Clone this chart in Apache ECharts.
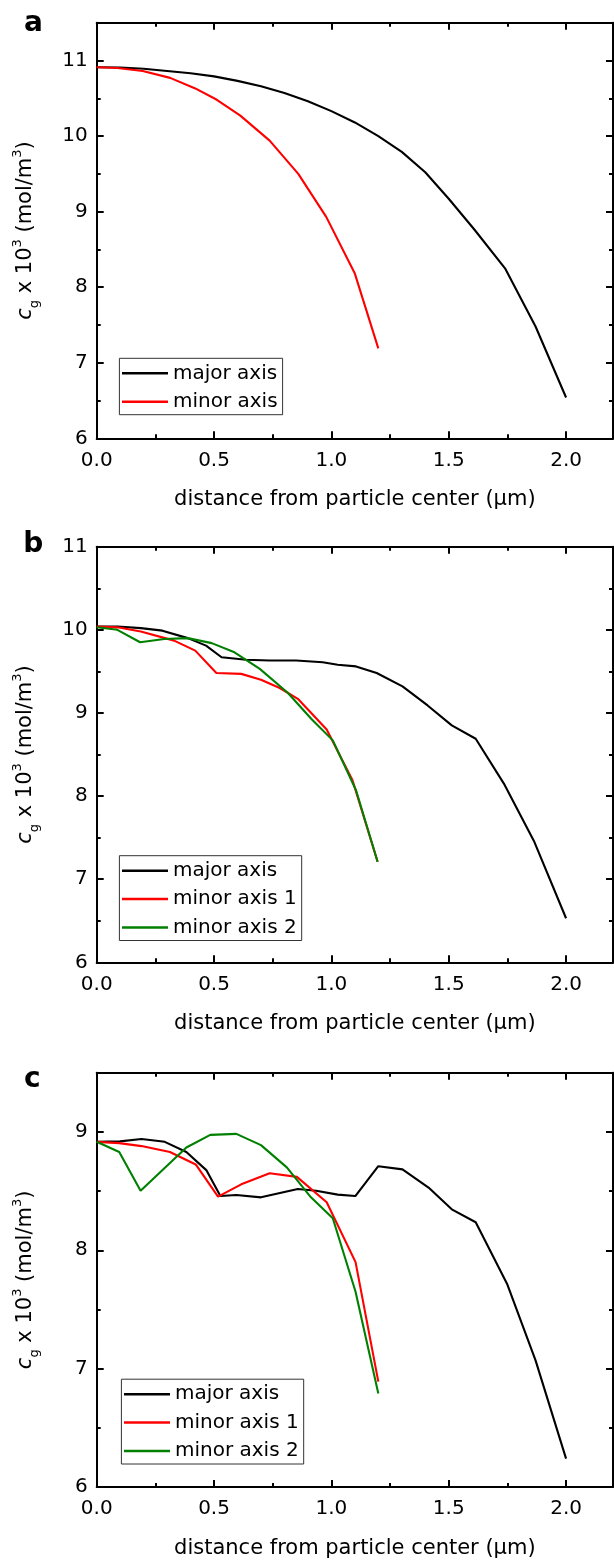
<!DOCTYPE html>
<html>
<head>
<meta charset="utf-8">
<script src="https://cdn.jsdelivr.net/npm/echarts@6/dist/echarts.min.js"></script>
<style>
html,body{margin:0;padding:0;background:#fff;}
#chart{width:614px;height:1560px;}
</style>
</head>
<body>
<div id="chart"></div>
<script>
// ---------------- data ----------------
var xMajorTicks = [0, 0.5, 1.0, 1.5, 2.0];
var xMinorTicks = [0.25, 0.75, 1.25, 1.75];

// panel a
var aMajorX = [0, 0.1, 0.2, 0.3, 0.4, 0.5, 0.6, 0.7, 0.8, 0.9, 1.0, 1.1, 1.2, 1.3, 1.4, 1.5, 1.61, 1.74, 1.87, 2.0];
var aMajorY = [10.91, 10.907, 10.89, 10.86, 10.83, 10.79, 10.73, 10.66, 10.57, 10.46, 10.33, 10.18, 10.0, 9.79, 9.52, 9.17, 8.76, 8.25, 7.48, 6.54];
var aMinorX = [0, 0.088, 0.196, 0.313, 0.42, 0.512, 0.612, 0.737, 0.859, 0.978, 1.1, 1.2];
var aMinorY = [10.91, 10.90, 10.86, 10.77, 10.63, 10.48, 10.27, 9.94, 9.50, 8.93, 8.18, 7.19];
var aYMajor = [6, 7, 8, 9, 10, 11];
var aYMinor = [6.5, 7.5, 8.5, 9.5, 10.5];

// panel b
var bMajorX = [0, 0.088, 0.188, 0.28, 0.388, 0.466, 0.532, 0.637, 0.737, 0.85, 0.963, 1.027, 1.105, 1.193, 1.303, 1.41, 1.513, 1.615, 1.735, 1.863, 2.0];
var bMajorY = [10.04, 10.04, 10.02, 9.99, 9.90, 9.81, 9.67, 9.64, 9.63, 9.63, 9.61, 9.58, 9.56, 9.48, 9.32, 9.09, 8.85, 8.69, 8.15, 7.46, 6.53];
var bMinor1X = [0, 0.088, 0.188, 0.33, 0.42, 0.51, 0.616, 0.70, 0.78, 0.857, 0.98, 1.09, 1.197];
var bMinor1Y = [10.04, 10.03, 9.98, 9.87, 9.75, 9.48, 9.47, 9.40, 9.30, 9.17, 8.80, 8.19, 7.21];
var bMinor2X = [0, 0.088, 0.185, 0.288, 0.388, 0.49, 0.587, 0.695, 0.815, 0.914, 1.006, 1.105, 1.197];
var bMinor2Y = [10.03, 10.0, 9.85, 9.89, 9.90, 9.84, 9.73, 9.53, 9.24, 8.93, 8.67, 8.07, 7.21];
var bYMajor = [6, 7, 8, 9, 10, 11];
var bYMinor = [6.5, 7.5, 8.5, 9.5, 10.5];

// panel c
var cMajorX = [0, 0.099, 0.191, 0.29, 0.382, 0.467, 0.527, 0.595, 0.70, 0.857, 0.935, 1.027, 1.102, 1.20, 1.303, 1.414, 1.513, 1.615, 1.75, 1.87, 2.0];
var cMajorY = [8.916, 8.92, 8.94, 8.916, 8.83, 8.677, 8.458, 8.467, 8.447, 8.517, 8.503, 8.47, 8.458, 8.71, 8.683, 8.53, 8.346, 8.237, 7.71, 7.07, 6.24];
var cMinor1X = [0, 0.096, 0.191, 0.312, 0.422, 0.517, 0.616, 0.737, 0.853, 0.98, 1.103, 1.2];
var cMinor1Y = [8.916, 8.905, 8.88, 8.83, 8.725, 8.453, 8.557, 8.65, 8.62, 8.405, 7.90, 6.89];
var cMinor2X = [0, 0.096, 0.187, 0.382, 0.484, 0.595, 0.70, 0.81, 0.913, 1.006, 1.103, 1.2];
var cMinor2Y = [8.916, 8.83, 8.503, 8.868, 8.975, 8.983, 8.888, 8.70, 8.447, 8.27, 7.65, 6.79];
var cYMajor = [6, 7, 8, 9];
var cYMinor = [6.5, 7.5, 8.5];

var xTitle = 'distance from particle center (\u03bcm)';
var yTitle = '{i|c}{sub|g}{n| x 10}{sup|3}{n| (mol/m}{sup|3}{n|)}';
var panelLabels = ['a', 'b', 'c'];

// ---------------- layout / style ----------------
var FONT = '"DejaVu Sans", "Liberation Sans", Arial, sans-serif';
var FS = 20;
var FS_TITLE = 21;
var GRID_LEFT = 96.7, GRID_W = 516.3, GRID_H = 415.6;
var gridTops = [22.7, 546.7, 1072.7];
var yRanges = [[6, 11.5], [6, 11], [6, 9.5]];
var yMajors = [aYMajor, bYMajor, cYMajor];
var yMinors = [aYMinor, bYMinor, cYMinor];
var AX = {color: '#000', width: 2};

var grids = [], xAxes = [], yAxes = [], series = [], legends = [], graphics = [];

function xAxisSet(g) {
  var base = {gridIndex: g, type: 'value', min: 0, max: 2.2, splitLine: {show: false}};
  xAxes.push(Object.assign({}, base, {
    position: 'bottom',
    axisLine: {show: true, onZero: false, lineStyle: AX},
    axisTick: {show: true, inside: true, length: 7, customValues: xMajorTicks, lineStyle: AX},
    axisLabel: {show: true, customValues: xMajorTicks, margin: 12, color: '#000',
      fontFamily: FONT, fontSize: FS, formatter: function (v) { return (+v).toFixed(1); }},
    name: xTitle, nameLocation: 'middle', nameGap: 51,
    nameTextStyle: {fontFamily: FONT, fontSize: FS_TITLE, color: '#000'}
  }));
  xAxes.push(Object.assign({}, base, {
    position: 'bottom', axisLine: {show: false, onZero: false},
    axisTick: {show: true, inside: true, length: 4, customValues: xMinorTicks, lineStyle: AX},
    axisLabel: {show: false}
  }));
  xAxes.push(Object.assign({}, base, {
    position: 'top', axisLine: {show: true, onZero: false, lineStyle: AX},
    axisTick: {show: true, inside: true, length: 7, customValues: xMajorTicks, lineStyle: AX},
    axisLabel: {show: false}
  }));
  xAxes.push(Object.assign({}, base, {
    position: 'top', axisLine: {show: false, onZero: false},
    axisTick: {show: true, inside: true, length: 4, customValues: xMinorTicks, lineStyle: AX},
    axisLabel: {show: false}
  }));
}

function yAxisSet(g) {
  var base = {gridIndex: g, type: 'value', min: yRanges[g][0], max: yRanges[g][1], splitLine: {show: false}};
  yAxes.push(Object.assign({}, base, {
    position: 'left',
    axisLine: {show: true, onZero: false, lineStyle: AX},
    axisTick: {show: true, inside: true, length: 7, customValues: yMajors[g], lineStyle: AX},
    axisLabel: {show: true, customValues: yMajors[g], margin: 9, color: '#000',
      fontFamily: FONT, fontSize: FS},
    name: yTitle, nameLocation: 'middle', nameGap: 56, nameRotate: 90,
    nameTextStyle: {fontFamily: FONT, fontSize: FS_TITLE, color: '#000',
      rich: {
        n: {fontFamily: FONT, fontSize: FS_TITLE, color: '#000', lineHeight: 30},
        i: {fontFamily: FONT, fontSize: FS_TITLE, color: '#000', fontStyle: 'italic', lineHeight: 30},
        sub: {fontFamily: FONT, fontSize: 13, color: '#000', verticalAlign: 'bottom', lineHeight: 28},
        sup: {fontFamily: FONT, fontSize: 13, color: '#000', verticalAlign: 'top', lineHeight: 18}
      }}
  }));
  yAxes.push(Object.assign({}, base, {
    position: 'left', axisLine: {show: false, onZero: false},
    axisTick: {show: true, inside: true, length: 4, customValues: yMinors[g], lineStyle: AX},
    axisLabel: {show: false}
  }));
  yAxes.push(Object.assign({}, base, {
    position: 'right', axisLine: {show: true, onZero: false, lineStyle: AX},
    axisTick: {show: true, inside: true, length: 7, customValues: yMajors[g], lineStyle: AX},
    axisLabel: {show: false}
  }));
  yAxes.push(Object.assign({}, base, {
    position: 'right', axisLine: {show: false, onZero: false},
    axisTick: {show: true, inside: true, length: 4, customValues: yMinors[g], lineStyle: AX},
    axisLabel: {show: false}
  }));
}

function addLine(g, name, xs, ys, color) {
  series.push({
    type: 'line', name: name, xAxisIndex: 4 * g, yAxisIndex: 4 * g,
    data: xs.map(function (x, i) { return [x, ys[i]]; }),
    symbol: 'none', showSymbol: false, smooth: false, silent: true,
    lineStyle: {color: color, width: 2.1}, itemStyle: {color: color},
    animation: false
  });
}

for (var g = 0; g < 3; g++) {
  grids.push({left: GRID_LEFT, top: gridTops[g], width: GRID_W, height: GRID_H, containLabel: false});
  xAxisSet(g);
  yAxisSet(g);
}

addLine(0, 'major axis', aMajorX, aMajorY, '#000000');
addLine(0, 'minor axis', aMinorX, aMinorY, '#ff0000');
addLine(1, 'major axis', bMajorX, bMajorY, '#000000');
addLine(1, 'minor axis 1', bMinor1X, bMinor1Y, '#ff0000');
addLine(1, 'minor axis 2', bMinor2X, bMinor2Y, '#008000');
addLine(2, 'major axis', cMajorX, cMajorY, '#000000');
addLine(2, 'minor axis 1', cMinor1X, cMinor1Y, '#ff0000');
addLine(2, 'minor axis 2', cMinor2X, cMinor2Y, '#008000');

function legendAt(left, top, names) {
  return {
    orient: 'vertical', left: left, top: top, data: names,
    icon: 'rect', itemWidth: 46, itemHeight: 2.5, itemGap: 4.4,
    padding: [3, 5, 1, 2.6], borderColor: '#333', borderWidth: 1,
    selectedMode: false,
    textStyle: {fontFamily: FONT, fontSize: FS, color: '#000', lineHeight: 24}
  };
}
legends.push(legendAt(119.4, 358.3, ['major axis', 'minor axis']));
legends.push(legendAt(119.4, 855.7, ['major axis', 'minor axis 1', 'minor axis 2']));
legends.push(legendAt(121.4, 1379.2, ['major axis', 'minor axis 1', 'minor axis 2']));

var labelPos = [[33.5, 23.5], [33.3, 544.5], [32.3, 1079.5]];
for (var k = 0; k < 3; k++) {
  graphics.push({
    type: 'text', x: labelPos[k][0], y: labelPos[k][1], silent: true,
    style: {text: panelLabels[k], fontFamily: FONT, fontSize: 28, fontWeight: 'bold',
      fill: '#000', textAlign: 'center', textVerticalAlign: 'middle'}
  });
}

var chart = echarts.init(document.getElementById('chart'), null, {renderer: 'canvas'});
chart.setOption({
  backgroundColor: '#ffffff',
  animation: false,
  grid: grids,
  xAxis: xAxes,
  yAxis: yAxes,
  legend: legends,
  graphic: graphics,
  series: series
});
</script>
</body>
</html>
